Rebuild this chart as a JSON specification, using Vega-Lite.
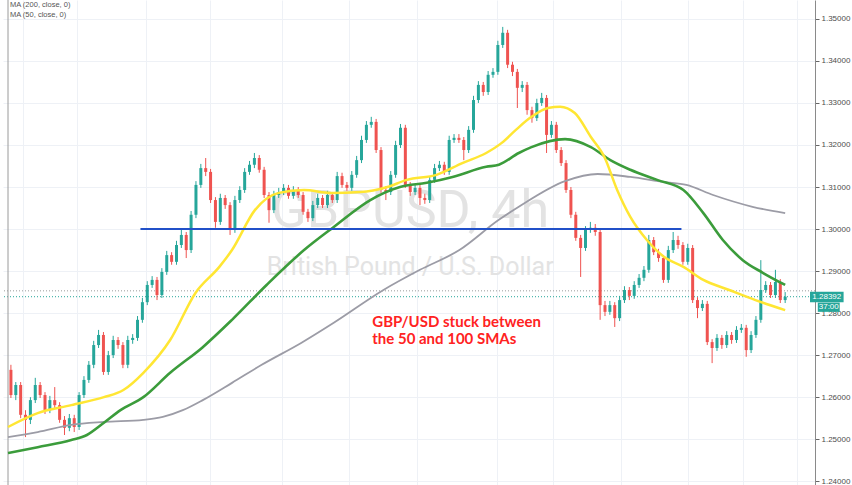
{
"$schema": "https://vega.github.io/schema/vega-lite/v6.json",
"width": 812, "height": 485,
"padding": {"left": 3, "top": 0, "right": 37, "bottom": 0},
"autosize": {"type": "none"},
"background": "#ffffff",
"config": {"view": {"stroke": null}},
"datasets": {
"candles": [
{"t":0,"o":1.2665,"h":1.2677,"l":1.2598,"c":1.2605},
{"t":1,"o":1.2605,"h":1.2636,"l":1.2593,"c":1.2629},
{"t":2,"o":1.2629,"h":1.2636,"l":1.2550,"c":1.2558},
{"t":3,"o":1.2558,"h":1.2569,"l":1.2505,"c":1.2546},
{"t":4,"o":1.2546,"h":1.2600,"l":1.2536,"c":1.2593},
{"t":5,"o":1.2593,"h":1.2646,"l":1.2586,"c":1.2629},
{"t":6,"o":1.2629,"h":1.2636,"l":1.2598,"c":1.2605},
{"t":7,"o":1.2605,"h":1.2612,"l":1.2560,"c":1.2569},
{"t":8,"o":1.2569,"h":1.2603,"l":1.2562,"c":1.2593},
{"t":9,"o":1.2593,"h":1.2624,"l":1.2572,"c":1.2581},
{"t":10,"o":1.2581,"h":1.2588,"l":1.2539,"c":1.2546},
{"t":11,"o":1.2546,"h":1.2555,"l":1.2510,"c":1.2527},
{"t":12,"o":1.2527,"h":1.2560,"l":1.2519,"c":1.2550},
{"t":13,"o":1.2550,"h":1.2558,"l":1.2517,"c":1.2529},
{"t":14,"o":1.2529,"h":1.2612,"l":1.2522,"c":1.2605},
{"t":15,"o":1.2605,"h":1.2650,"l":1.2598,"c":1.2641},
{"t":16,"o":1.2641,"h":1.2686,"l":1.2634,"c":1.2677},
{"t":17,"o":1.2677,"h":1.2734,"l":1.2669,"c":1.2724},
{"t":18,"o":1.2724,"h":1.2760,"l":1.2717,"c":1.2748},
{"t":19,"o":1.2748,"h":1.2755,"l":1.2653,"c":1.2660},
{"t":20,"o":1.2660,"h":1.2710,"l":1.2653,"c":1.2700},
{"t":21,"o":1.2700,"h":1.2746,"l":1.2693,"c":1.2736},
{"t":22,"o":1.2736,"h":1.2743,"l":1.2715,"c":1.2724},
{"t":23,"o":1.2724,"h":1.2731,"l":1.2669,"c":1.2677},
{"t":24,"o":1.2677,"h":1.2746,"l":1.2669,"c":1.2736},
{"t":25,"o":1.2736,"h":1.2750,"l":1.2727,"c":1.2741},
{"t":26,"o":1.2741,"h":1.2793,"l":1.2734,"c":1.2784},
{"t":27,"o":1.2784,"h":1.2836,"l":1.2777,"c":1.2826},
{"t":28,"o":1.2826,"h":1.2876,"l":1.2819,"c":1.2867},
{"t":29,"o":1.2867,"h":1.2888,"l":1.2860,"c":1.2879},
{"t":30,"o":1.2879,"h":1.2886,"l":1.2831,"c":1.2843},
{"t":31,"o":1.2843,"h":1.2907,"l":1.2836,"c":1.2898},
{"t":32,"o":1.2898,"h":1.2948,"l":1.2891,"c":1.2938},
{"t":33,"o":1.2938,"h":1.2945,"l":1.2915,"c":1.2922},
{"t":34,"o":1.2922,"h":1.2972,"l":1.2915,"c":1.2962},
{"t":35,"o":1.2962,"h":1.2998,"l":1.2955,"c":1.2986},
{"t":36,"o":1.2986,"h":1.2993,"l":1.2931,"c":1.2950},
{"t":37,"o":1.2950,"h":1.3043,"l":1.2943,"c":1.3034},
{"t":38,"o":1.3034,"h":1.3114,"l":1.3026,"c":1.3105},
{"t":39,"o":1.3105,"h":1.3155,"l":1.3098,"c":1.3145},
{"t":40,"o":1.3145,"h":1.3169,"l":1.3126,"c":1.3136},
{"t":41,"o":1.3136,"h":1.3143,"l":1.3062,"c":1.3069},
{"t":42,"o":1.3069,"h":1.3076,"l":1.3003,"c":1.3017},
{"t":43,"o":1.3017,"h":1.3084,"l":1.3010,"c":1.3074},
{"t":44,"o":1.3074,"h":1.3081,"l":1.3048,"c":1.3057},
{"t":45,"o":1.3057,"h":1.3064,"l":1.2986,"c":1.2998},
{"t":46,"o":1.2998,"h":1.3079,"l":1.2991,"c":1.3069},
{"t":47,"o":1.3069,"h":1.3102,"l":1.3062,"c":1.3093},
{"t":48,"o":1.3093,"h":1.3145,"l":1.3086,"c":1.3136},
{"t":49,"o":1.3136,"h":1.3162,"l":1.3129,"c":1.3153},
{"t":50,"o":1.3153,"h":1.3181,"l":1.3145,"c":1.3169},
{"t":51,"o":1.3169,"h":1.3176,"l":1.3134,"c":1.3141},
{"t":52,"o":1.3141,"h":1.3148,"l":1.3074,"c":1.3081},
{"t":53,"o":1.3081,"h":1.3088,"l":1.3015,"c":1.3045},
{"t":54,"o":1.3045,"h":1.3091,"l":1.3038,"c":1.3081},
{"t":55,"o":1.3081,"h":1.3098,"l":1.3074,"c":1.3088},
{"t":56,"o":1.3088,"h":1.3107,"l":1.3081,"c":1.3098},
{"t":57,"o":1.3098,"h":1.3105,"l":1.3072,"c":1.3079},
{"t":58,"o":1.3079,"h":1.3102,"l":1.3072,"c":1.3093},
{"t":59,"o":1.3093,"h":1.3100,"l":1.3074,"c":1.3081},
{"t":60,"o":1.3081,"h":1.3088,"l":1.3034,"c":1.3041},
{"t":61,"o":1.3041,"h":1.3048,"l":1.3017,"c":1.3026},
{"t":62,"o":1.3026,"h":1.3067,"l":1.3019,"c":1.3057},
{"t":63,"o":1.3057,"h":1.3084,"l":1.3050,"c":1.3074},
{"t":64,"o":1.3074,"h":1.3081,"l":1.3050,"c":1.3057},
{"t":65,"o":1.3057,"h":1.3091,"l":1.3050,"c":1.3081},
{"t":66,"o":1.3081,"h":1.3088,"l":1.3062,"c":1.3069},
{"t":67,"o":1.3069,"h":1.3136,"l":1.3062,"c":1.3126},
{"t":68,"o":1.3126,"h":1.3134,"l":1.3098,"c":1.3105},
{"t":69,"o":1.3105,"h":1.3112,"l":1.3091,"c":1.3098},
{"t":70,"o":1.3098,"h":1.3138,"l":1.3091,"c":1.3129},
{"t":71,"o":1.3129,"h":1.3174,"l":1.3122,"c":1.3164},
{"t":72,"o":1.3164,"h":1.3222,"l":1.3157,"c":1.3212},
{"t":73,"o":1.3212,"h":1.3257,"l":1.3205,"c":1.3248},
{"t":74,"o":1.3248,"h":1.3267,"l":1.3241,"c":1.3255},
{"t":75,"o":1.3255,"h":1.3262,"l":1.3181,"c":1.3188},
{"t":76,"o":1.3188,"h":1.3195,"l":1.3086,"c":1.3093},
{"t":77,"o":1.3093,"h":1.3102,"l":1.3069,"c":1.3088},
{"t":78,"o":1.3088,"h":1.3138,"l":1.3081,"c":1.3129},
{"t":79,"o":1.3129,"h":1.3210,"l":1.3122,"c":1.3200},
{"t":80,"o":1.3200,"h":1.3250,"l":1.3193,"c":1.3241},
{"t":81,"o":1.3241,"h":1.3248,"l":1.3098,"c":1.3105},
{"t":82,"o":1.3105,"h":1.3112,"l":1.3079,"c":1.3088},
{"t":83,"o":1.3088,"h":1.3105,"l":1.3081,"c":1.3098},
{"t":84,"o":1.3098,"h":1.3105,"l":1.3057,"c":1.3074},
{"t":85,"o":1.3074,"h":1.3084,"l":1.3060,"c":1.3069},
{"t":86,"o":1.3069,"h":1.3126,"l":1.3062,"c":1.3117},
{"t":87,"o":1.3117,"h":1.3155,"l":1.3110,"c":1.3145},
{"t":88,"o":1.3145,"h":1.3162,"l":1.3138,"c":1.3153},
{"t":89,"o":1.3153,"h":1.3160,"l":1.3129,"c":1.3136},
{"t":90,"o":1.3136,"h":1.3222,"l":1.3129,"c":1.3212},
{"t":91,"o":1.3212,"h":1.3226,"l":1.3205,"c":1.3217},
{"t":92,"o":1.3217,"h":1.3226,"l":1.3205,"c":1.3212},
{"t":93,"o":1.3212,"h":1.3219,"l":1.3164,"c":1.3188},
{"t":94,"o":1.3188,"h":1.3245,"l":1.3181,"c":1.3236},
{"t":95,"o":1.3236,"h":1.3317,"l":1.3229,"c":1.3307},
{"t":96,"o":1.3307,"h":1.3352,"l":1.3300,"c":1.3343},
{"t":97,"o":1.3343,"h":1.3350,"l":1.3317,"c":1.3326},
{"t":98,"o":1.3326,"h":1.3376,"l":1.3319,"c":1.3367},
{"t":99,"o":1.3367,"h":1.3383,"l":1.3360,"c":1.3374},
{"t":100,"o":1.3374,"h":1.3448,"l":1.3367,"c":1.3438},
{"t":101,"o":1.3438,"h":1.3481,"l":1.3431,"c":1.3467},
{"t":102,"o":1.3467,"h":1.3474,"l":1.3383,"c":1.3391},
{"t":103,"o":1.3391,"h":1.3398,"l":1.3364,"c":1.3374},
{"t":104,"o":1.3374,"h":1.3381,"l":1.3288,"c":1.3336},
{"t":105,"o":1.3336,"h":1.3352,"l":1.3326,"c":1.3343},
{"t":106,"o":1.3343,"h":1.3350,"l":1.3272,"c":1.3283},
{"t":107,"o":1.3283,"h":1.3291,"l":1.3253,"c":1.3264},
{"t":108,"o":1.3264,"h":1.3310,"l":1.3257,"c":1.3300},
{"t":109,"o":1.3300,"h":1.3324,"l":1.3293,"c":1.3312},
{"t":110,"o":1.3312,"h":1.3319,"l":1.3181,"c":1.3224},
{"t":111,"o":1.3224,"h":1.3257,"l":1.3217,"c":1.3248},
{"t":112,"o":1.3248,"h":1.3255,"l":1.3181,"c":1.3188},
{"t":113,"o":1.3188,"h":1.3195,"l":1.3150,"c":1.3157},
{"t":114,"o":1.3157,"h":1.3164,"l":1.3086,"c":1.3093},
{"t":115,"o":1.3093,"h":1.3100,"l":1.3026,"c":1.3034},
{"t":116,"o":1.3034,"h":1.3041,"l":1.2972,"c":1.2979},
{"t":117,"o":1.2979,"h":1.2986,"l":1.2886,"c":1.2955},
{"t":118,"o":1.2955,"h":1.3007,"l":1.2948,"c":1.2998},
{"t":119,"o":1.2998,"h":1.3017,"l":1.2991,"c":1.3003},
{"t":120,"o":1.3003,"h":1.3012,"l":1.2984,"c":1.2993},
{"t":121,"o":1.2993,"h":1.3000,"l":1.2784,"c":1.2819},
{"t":122,"o":1.2819,"h":1.2829,"l":1.2793,"c":1.2803},
{"t":123,"o":1.2803,"h":1.2829,"l":1.2796,"c":1.2819},
{"t":124,"o":1.2819,"h":1.2826,"l":1.2767,"c":1.2788},
{"t":125,"o":1.2788,"h":1.2841,"l":1.2781,"c":1.2831},
{"t":126,"o":1.2831,"h":1.2864,"l":1.2824,"c":1.2855},
{"t":127,"o":1.2855,"h":1.2862,"l":1.2831,"c":1.2841},
{"t":128,"o":1.2841,"h":1.2876,"l":1.2834,"c":1.2867},
{"t":129,"o":1.2867,"h":1.2893,"l":1.2860,"c":1.2884},
{"t":130,"o":1.2884,"h":1.2912,"l":1.2876,"c":1.2903},
{"t":131,"o":1.2903,"h":1.2986,"l":1.2896,"c":1.2974},
{"t":132,"o":1.2974,"h":1.2981,"l":1.2938,"c":1.2945},
{"t":133,"o":1.2945,"h":1.2953,"l":1.2922,"c":1.2931},
{"t":134,"o":1.2931,"h":1.2938,"l":1.2872,"c":1.2879},
{"t":135,"o":1.2879,"h":1.2960,"l":1.2872,"c":1.2950},
{"t":136,"o":1.2950,"h":1.2993,"l":1.2943,"c":1.2974},
{"t":137,"o":1.2974,"h":1.2984,"l":1.2953,"c":1.2962},
{"t":138,"o":1.2962,"h":1.2969,"l":1.2915,"c":1.2922},
{"t":139,"o":1.2922,"h":1.2965,"l":1.2915,"c":1.2955},
{"t":140,"o":1.2955,"h":1.2962,"l":1.2824,"c":1.2831},
{"t":141,"o":1.2831,"h":1.2838,"l":1.2788,"c":1.2812},
{"t":142,"o":1.2812,"h":1.2831,"l":1.2805,"c":1.2822},
{"t":143,"o":1.2822,"h":1.2829,"l":1.2724,"c":1.2731},
{"t":144,"o":1.2731,"h":1.2738,"l":1.2681,"c":1.2717},
{"t":145,"o":1.2717,"h":1.2750,"l":1.2710,"c":1.2741},
{"t":146,"o":1.2741,"h":1.2748,"l":1.2715,"c":1.2724},
{"t":147,"o":1.2724,"h":1.2757,"l":1.2717,"c":1.2748},
{"t":148,"o":1.2748,"h":1.2755,"l":1.2727,"c":1.2736},
{"t":149,"o":1.2736,"h":1.2769,"l":1.2729,"c":1.2760},
{"t":150,"o":1.2760,"h":1.2774,"l":1.2753,"c":1.2765},
{"t":151,"o":1.2765,"h":1.2772,"l":1.2696,"c":1.2712},
{"t":152,"o":1.2712,"h":1.2757,"l":1.2705,"c":1.2748},
{"t":153,"o":1.2748,"h":1.2793,"l":1.2741,"c":1.2784},
{"t":154,"o":1.2784,"h":1.2926,"l":1.2777,"c":1.2855},
{"t":155,"o":1.2855,"h":1.2876,"l":1.2848,"c":1.2867},
{"t":156,"o":1.2867,"h":1.2874,"l":1.2836,"c":1.2843},
{"t":157,"o":1.2843,"h":1.2903,"l":1.2836,"c":1.2874},
{"t":158,"o":1.2874,"h":1.2881,"l":1.2824,"c":1.2831},
{"t":159,"o":1.2831,"h":1.2850,"l":1.2824,"c":1.2839}
],
"ma": [
{"s":"MA50","t":-0.6,"v":1.2529},{"s":"MA50","t":5.5,"v":1.2562},{"s":"MA50","t":12.4,"v":1.2581},{"s":"MA50","t":19.1,"v":1.2600},{"s":"MA50","t":23.1,"v":1.2617},{"s":"MA50","t":27.2,"v":1.2658},{"s":"MA50","t":32.7,"v":1.2736},{"s":"MA50","t":37.9,"v":1.2848},{"s":"MA50","t":42.8,"v":1.2910},{"s":"MA50","t":45.4,"v":1.2950},{"s":"MA50","t":50.1,"v":1.3045},{"s":"MA50","t":55.0,"v":1.3086},{"s":"MA50","t":60.2,"v":1.3093},{"s":"MA50","t":65.7,"v":1.3086},{"s":"MA50","t":71.8,"v":1.3088},{"s":"MA50","t":77.3,"v":1.3100},{"s":"MA50","t":81.3,"v":1.3117},{"s":"MA50","t":87.4,"v":1.3129},{"s":"MA50","t":92.7,"v":1.3157},{"s":"MA50","t":97.6,"v":1.3181},{"s":"MA50","t":100.8,"v":1.3205},{"s":"MA50","t":103.7,"v":1.3236},{"s":"MA50","t":106.9,"v":1.3267},{"s":"MA50","t":110.3,"v":1.3288},{"s":"MA50","t":112.8,"v":1.3291},{"s":"MA50","t":115.8,"v":1.3276},{"s":"MA50","t":119.1,"v":1.3219},{"s":"MA50","t":121.9,"v":1.3171},{"s":"MA50","t":124.5,"v":1.3093},{"s":"MA50","t":127.2,"v":1.3029},{"s":"MA50","t":130.6,"v":1.2974},{"s":"MA50","t":134.1,"v":1.2934},{"s":"MA50","t":138.1,"v":1.2910},{"s":"MA50","t":142.2,"v":1.2879},{"s":"MA50","t":147.5,"v":1.2855},{"s":"MA50","t":152.9,"v":1.2831},{"s":"MA50","t":159.0,"v":1.2807},
{"s":"MA100","t":-0.6,"v":1.2467},{"s":"MA100","t":5.5,"v":1.2481},{"s":"MA100","t":12.4,"v":1.2498},{"s":"MA100","t":15.6,"v":1.2510},{"s":"MA100","t":19.1,"v":1.2539},{"s":"MA100","t":22.5,"v":1.2569},{"s":"MA100","t":27.2,"v":1.2600},{"s":"MA100","t":32.7,"v":1.2658},{"s":"MA100","t":39.4,"v":1.2719},{"s":"MA100","t":45.4,"v":1.2784},{"s":"MA100","t":52.5,"v":1.2867},{"s":"MA100","t":60.2,"v":1.2950},{"s":"MA100","t":66.3,"v":1.3005},{"s":"MA100","t":73.8,"v":1.3069},{"s":"MA100","t":79.9,"v":1.3100},{"s":"MA100","t":85.4,"v":1.3110},{"s":"MA100","t":90.7,"v":1.3124},{"s":"MA100","t":97.6,"v":1.3148},{"s":"MA100","t":100.2,"v":1.3153},{"s":"MA100","t":104.3,"v":1.3181},{"s":"MA100","t":106.9,"v":1.3195},{"s":"MA100","t":113.8,"v":1.3214},{"s":"MA100","t":119.1,"v":1.3195},{"s":"MA100","t":123.1,"v":1.3164},{"s":"MA100","t":127.2,"v":1.3141},{"s":"MA100","t":132.7,"v":1.3117},{"s":"MA100","t":138.1,"v":1.3093},{"s":"MA100","t":142.2,"v":1.3038},{"s":"MA100","t":146.2,"v":1.2974},{"s":"MA100","t":150.3,"v":1.2926},{"s":"MA100","t":154.4,"v":1.2896},{"s":"MA100","t":159.0,"v":1.2867},
{"s":"MA200","t":-0.6,"v":1.2505},{"s":"MA200","t":5.5,"v":1.2517},{"s":"MA200","t":12.4,"v":1.2534},{"s":"MA200","t":19.1,"v":1.2541},{"s":"MA200","t":27.2,"v":1.2546},{"s":"MA200","t":31.2,"v":1.2553},{"s":"MA200","t":35.3,"v":1.2569},{"s":"MA200","t":39.4,"v":1.2593},{"s":"MA200","t":45.4,"v":1.2634},{"s":"MA200","t":51.5,"v":1.2677},{"s":"MA200","t":59.6,"v":1.2729},{"s":"MA200","t":66.3,"v":1.2777},{"s":"MA200","t":76.5,"v":1.2855},{"s":"MA200","t":84.0,"v":1.2903},{"s":"MA200","t":92.1,"v":1.2950},{"s":"MA200","t":100.2,"v":1.3022},{"s":"MA200","t":104.3,"v":1.3053},{"s":"MA200","t":113.8,"v":1.3114},{"s":"MA200","t":120.5,"v":1.3131},{"s":"MA200","t":127.2,"v":1.3124},{"s":"MA200","t":134.1,"v":1.3112},{"s":"MA200","t":138.7,"v":1.3105},{"s":"MA200","t":144.2,"v":1.3081},{"s":"MA200","t":152.3,"v":1.3053},{"s":"MA200","t":159.0,"v":1.3038}
]
},
"layer": [
{
"data": {"values": [{"txt": "GBPUSD, 4h"}]},
"mark": {"type": "text", "font": "Roboto", "fontSize": 52, "color": "#e3e3e3", "align": "center", "baseline": "alphabetic"},
"encoding": {
"x": {"datum": 82, "type": "quantitative", "scale": {"domain": [-0.6, 164.1], "nice": false, "zero": false},
"axis": {"values": [2.4, 13.6, 27.8, 40.8, 55.6, 69.4, 83.4, 99.8, 111.4, 125.2, 139.1, 150.3, 161.5], "labels": false, "ticks": false, "domain": false, "grid": true, "gridColor": "#eef1f6", "title": null}},
"y": {"datum": 1.3005, "type": "quantitative", "scale": {"domain": [1.2391, 1.3545], "nice": false, "zero": false},
"axis": {"orient": "right", "values": [1.24,1.245,1.25,1.255,1.26,1.265,1.27,1.275,1.28,1.285,1.29,1.295,1.3,1.305,1.31,1.315,1.32,1.325,1.33,1.335,1.34,1.345,1.35], "format": ".5f", "labelFont": "Liberation Sans", "labelFontSize": 8, "labelColor": "#4d4d4d", "tickColor": "#666", "tickSize": 4, "labelPadding": 2, "domainColor": "#8a8a8a", "grid": true, "gridColor": "#eef1f6", "title": null}},
"text": {"field": "txt"}
}
},
{
"data": {"values": [{"txt": "British Pound / U.S. Dollar"}]},
"mark": {"type": "text", "font": "Roboto", "fontSize": 25, "color": "#e3e3e3", "align": "center", "baseline": "alphabetic"},
"encoding": {"x": {"datum": 82, "type": "quantitative"}, "y": {"datum": 1.2891, "type": "quantitative"}, "text": {"field": "txt"}}
},
{
"data": {"values": [{"p": 1.2853}]},
"mark": {"type": "rule", "strokeDash": [1, 2], "strokeWidth": 1, "color": "#9a9a9a"},
"encoding": {"y": {"field": "p", "type": "quantitative"}}
},
{
"data": {"values": [{"p": 1.2839}]},
"mark": {"type": "rule", "strokeDash": [1, 2], "strokeWidth": 1, "color": "#26a69a"},
"encoding": {"y": {"field": "p", "type": "quantitative"}}
},
{
"data": {"values": [{"e": 1}]},
"mark": {"type": "rule", "color": "#9a9a9a", "strokeWidth": 1},
"encoding": {"x": {"datum": -0.6, "type": "quantitative"}}
},
{
"data": {"name": "candles"},
"mark": {"type": "rule", "strokeWidth": 1},
"encoding": {
"x": {"field": "t", "type": "quantitative"},
"y": {"field": "l", "type": "quantitative"},
"y2": {"field": "h"},
"color": {"condition": {"test": "datum.c >= datum.o", "value": "#26a69a"}, "value": "#ef5350"}
}
},
{
"data": {"name": "candles"},
"mark": {"type": "bar", "size": 3},
"encoding": {
"x": {"field": "t", "type": "quantitative"},
"y": {"field": "o", "type": "quantitative"},
"y2": {"field": "c"},
"color": {"condition": {"test": "datum.c >= datum.o", "value": "#26a69a"}, "value": "#ef5350"}
}
},
{
"data": {"name": "ma"},
"transform": [{"filter": "datum.s == 'MA200'"}],
"mark": {"type": "line", "color": "#9c9ca6", "strokeWidth": 1.8, "interpolate": "monotone"},
"encoding": {"x": {"field": "t", "type": "quantitative"}, "y": {"field": "v", "type": "quantitative"}}
},
{
"data": {"name": "ma"},
"transform": [{"filter": "datum.s == 'MA100'"}],
"mark": {"type": "line", "color": "#3b9c3b", "strokeWidth": 2.6, "interpolate": "monotone"},
"encoding": {"x": {"field": "t", "type": "quantitative"}, "y": {"field": "v", "type": "quantitative"}}
},
{
"data": {"name": "ma"},
"transform": [{"filter": "datum.s == 'MA50'"}],
"mark": {"type": "line", "color": "#ffe633", "strokeWidth": 2.5, "interpolate": "monotone"},
"encoding": {"x": {"field": "t", "type": "quantitative"}, "y": {"field": "v", "type": "quantitative"}}
},
{
"data": {"values": [{"a": 26.6, "b": 137.7, "p": 1.3}]},
"mark": {"type": "rule", "color": "#2150c8", "strokeWidth": 2},
"encoding": {"x": {"field": "a", "type": "quantitative"}, "x2": {"field": "b"}, "y": {"field": "p", "type": "quantitative"}}
},
{
"data": {"values": [{"txt": "GBP/USD stuck between"}]},
"mark": {"type": "text", "font": "Lato", "fontWeight": "bold", "fontSize": 15, "color": "#ff2222", "align": "left", "baseline": "alphabetic"},
"encoding": {"x": {"datum": 74.2, "type": "quantitative"}, "y": {"datum": 1.2767, "type": "quantitative"}, "text": {"field": "txt"}}
},
{
"data": {"values": [{"txt": "the 50 and 100 SMAs"}]},
"mark": {"type": "text", "font": "Lato", "fontWeight": "bold", "fontSize": 15, "color": "#ff2222", "align": "left", "baseline": "alphabetic"},
"encoding": {"x": {"datum": 74.2, "type": "quantitative"}, "y": {"datum": 1.2727, "type": "quantitative"}, "text": {"field": "txt"}}
},
{
"data": {"values": [{"txt": "MA (200, close, 0)"}]},
"mark": {"type": "text", "font": "Liberation Sans", "fontSize": 7.5, "color": "#555555", "align": "left", "baseline": "alphabetic"},
"encoding": {"x": {"datum": -0.2, "type": "quantitative"}, "y": {"datum": 1.3528, "type": "quantitative"}, "text": {"field": "txt"}}
},
{
"data": {"values": [{"txt": "MA (50, close, 0)"}]},
"mark": {"type": "text", "font": "Liberation Sans", "fontSize": 7.5, "color": "#555555", "align": "left", "baseline": "alphabetic"},
"encoding": {"x": {"datum": -0.2, "type": "quantitative"}, "y": {"datum": 1.3504, "type": "quantitative"}, "text": {"field": "txt"}}
},
{
"data": {"values": [{"txt": "1.28392", "top": 1.2851, "bot": 1.2826, "mid": 1.28385, "x0": 164.1, "x1": 171.0, "xm": 167.55}, {"txt": "37:00", "top": 1.2825, "bot": 1.2803, "mid": 1.2814, "x0": 165.7, "x1": 170.2, "xm": 167.95}]},
"layer": [
{"mark": {"type": "rect", "color": "#26a69a"},
 "encoding": {"x": {"field": "x0", "type": "quantitative"}, "x2": {"field": "x1"}, "y": {"field": "top", "type": "quantitative"}, "y2": {"field": "bot"}}},
{"mark": {"type": "text", "font": "Liberation Sans", "fontSize": 8, "color": "#ffffff", "align": "center", "baseline": "middle"},
 "encoding": {"x": {"field": "xm", "type": "quantitative"}, "y": {"field": "mid", "type": "quantitative"}, "text": {"field": "txt"}}}
]
}
]
}
